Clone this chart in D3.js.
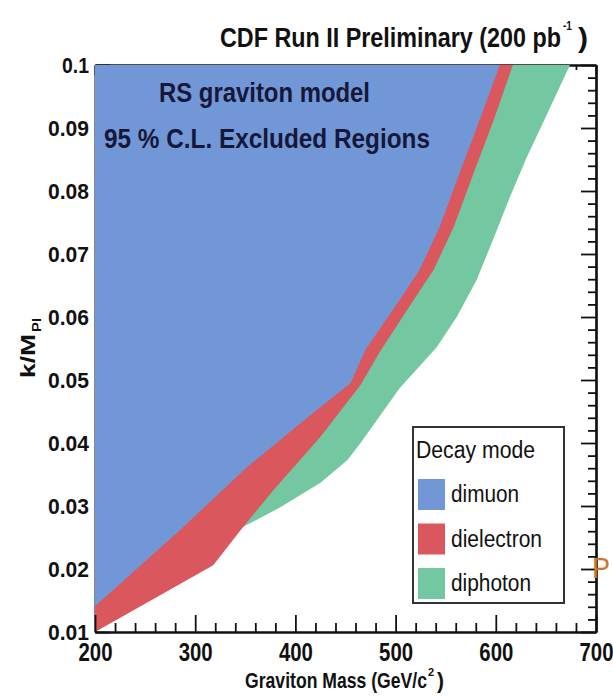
<!DOCTYPE html>
<html>
<head>
<meta charset="utf-8">
<script src="https://cdn.jsdelivr.net/npm/d3@7"></script>
<style>
  body { margin: 0; background: #fff; }
  text { font-family: "Liberation Sans", Arial, Helvetica, sans-serif; }
</style>
</head>
<body>
<svg id="chart" width="613" height="697"></svg>
<script>
// Axis ticks and labels
const massTicks = [200, 300, 400, 500, 600, 700];
const kTicks = [0.01, 0.02, 0.03, 0.04, 0.05, 0.06, 0.07, 0.08, 0.09, 0.1];
const kLabels = ["0.01", "0.02", "0.03", "0.04", "0.05", "0.06", "0.07", "0.08", "0.09", "0.1"];

// Exclusion boundaries (graviton mass in GeV/c^2, k/M_Pl)
const dimuonMass = [200, 285, 352, 418, 455, 470, 504, 524, 544, 564, 584, 604];
const dimuonK    = [0.0141, 0.0262, 0.0362, 0.0448, 0.0495, 0.0548, 0.0627, 0.0675, 0.0743, 0.0829, 0.0913, 0.1];

const dielectronMass = [200, 318, 348, 378, 425, 465, 484, 518, 538, 558, 578, 598, 617];
const dielectronK    = [0.01, 0.0206, 0.0267, 0.0325, 0.041, 0.0492, 0.0544, 0.0627, 0.0675, 0.0743, 0.0829, 0.0913, 0.1];

const diphotonMass = [200, 348, 385, 425, 452, 465, 504, 541, 561, 581, 597, 614, 631, 647, 674];
const diphotonK    = [0.01, 0.0267, 0.0298, 0.0337, 0.0373, 0.04, 0.0487, 0.0552, 0.06, 0.0659, 0.0722, 0.079, 0.0854, 0.0908, 0.1];

const modes = ["dimuon", "dielectron", "diphoton"];
const modeColors = ["#7297d6", "#d9575d", "#73c7a1"];

const svg = d3.select("#chart");
svg.append("rect").attr("width", 613).attr("height", 697).attr("fill", "#fff");

const x = d3.scaleLinear().domain([200, 700]).range([95, 596]);
const y = d3.scaleLinear().domain([0.01, 0.1]).range([632, 65]);

const massMinor = d3.range(200, 701, 20).filter(v => v % 100 !== 0);
const kMinor = d3.range(10, 101, 2).filter(v => v % 10 !== 0).map(v => v / 1000);

function styleAxis(g, width) {
  g.select(".domain").attr("stroke", "#111").attr("stroke-width", width);
  g.selectAll(".tick line").attr("stroke", "#111").attr("stroke-width", 1.8);
}

// Top and left frame sit underneath the filled regions
styleAxis(svg.append("g").attr("transform", "translate(0,65)")
  .call(d3.axisBottom(x).tickValues(massMinor).tickSize(5).tickSizeOuter(0).tickFormat("")), 2);
styleAxis(svg.append("g").attr("transform", "translate(0,65)")
  .call(d3.axisBottom(x).tickValues(massTicks).tickSize(10).tickSizeOuter(0).tickFormat("")), 2);
styleAxis(svg.append("g").attr("transform", "translate(95,0)")
  .call(d3.axisRight(y).tickValues(kTicks).tickSize(15).tickSizeOuter(0).tickFormat("")), 2);

// Excluded regions: everything to the upper left of each boundary
function region(masses, ks) {
  const pts = masses.map((m, i) => [m, ks[i]]);
  pts.push([200, 0.1]);
  return d3.line().x(d => x(d[0])).y(d => y(d[1]))(pts) + "Z";
}
svg.append("path").attr("d", region(diphotonMass, diphotonK)).attr("fill", modeColors[2]);
svg.append("path").attr("d", region(dielectronMass, dielectronK)).attr("fill", modeColors[1]);
svg.append("path").attr("d", region(dimuonMass, dimuonK)).attr("fill", modeColors[0]);

// Bottom axis: inward ticks
styleAxis(svg.append("g").attr("transform", "translate(0,632)")
  .call(d3.axisTop(x).tickValues(massMinor).tickSize(9).tickSizeOuter(0).tickFormat("")), 2.2);
styleAxis(svg.append("g").attr("transform", "translate(0,632)")
  .call(d3.axisTop(x).tickValues(massTicks).tickSize(17).tickSizeOuter(0).tickFormat("")), 2.2);
// Right axis: inward ticks
styleAxis(svg.append("g").attr("transform", "translate(596,0)")
  .call(d3.axisLeft(y).tickValues(kMinor).tickSize(8).tickSizeOuter(0).tickFormat("")), 2.2);
styleAxis(svg.append("g").attr("transform", "translate(596,0)")
  .call(d3.axisLeft(y).tickValues(kTicks).tickSize(15).tickSizeOuter(0).tickFormat("")), 2.2);

// Tick labels
const xLab = svg.append("g").attr("transform", "translate(0,632)")
  .call(d3.axisBottom(x).tickValues(massTicks).tickSize(0).tickPadding(11).tickFormat(d3.format("d")));
xLab.select(".domain").remove();
xLab.selectAll(".tick text")
  .attr("font-size", 26).attr("font-weight", "bold").attr("fill", "#111")
  .style("font-family", '"Liberation Sans", Arial, sans-serif')
  .attr("textLength", 34).attr("lengthAdjust", "spacingAndGlyphs");

const yLab = svg.append("g").attr("transform", "translate(95,0)")
  .call(d3.axisLeft(y).tickValues(kTicks).tickSize(0).tickPadding(6).tickFormat((d, i) => kLabels[i]));
yLab.select(".domain").remove();
yLab.selectAll(".tick text")
  .attr("font-size", 22).attr("font-weight", "bold").attr("fill", "#111")
  .style("font-family", '"Liberation Sans", Arial, sans-serif')
  .attr("textLength", (d, i) => kLabels[i].length === 3 ? 27 : 41)
  .attr("lengthAdjust", "spacingAndGlyphs");

function label(txt, px, py, size, weight, width, color) {
  const t = svg.append("text").attr("x", px).attr("y", py)
    .attr("font-size", size).attr("font-weight", weight).attr("fill", color || "#111").text(txt);
  if (width) t.attr("textLength", width).attr("lengthAdjust", "spacingAndGlyphs");
  return t;
}

// Title
label("CDF Run II Preliminary (200 pb", 220, 47, 27, "bold", 341);
label("-1", 563, 30, 12, "bold", 9);
label(")", 578, 47, 27, "bold", 10);

// Annotation inside the excluded area
label("RS graviton model", 159, 102, 27, "bold", 211, "#15183a");
label("95 % C.L. Excluded Regions", 104, 148, 27, "bold", 326, "#15183a");

// Axis titles
label("Graviton Mass (GeV/c", 245, 688, 22, "bold", 182);
label("2", 428, 676, 11, "bold");
label(")", 437, 688, 22, "bold", 7);

const yt = svg.append("g").attr("transform", "translate(35,378) rotate(-90)");
yt.append("text").attr("x", 0).attr("y", 0).attr("font-size", 21).attr("font-weight", "bold")
  .attr("fill", "#111").attr("textLength", 44).attr("lengthAdjust", "spacingAndGlyphs").text("k/M");
yt.append("text").attr("x", 46).attr("y", 6).attr("font-size", 12).attr("font-weight", "bold")
  .attr("fill", "#111").attr("textLength", 14).attr("lengthAdjust", "spacingAndGlyphs").text("Pl");

// Legend
const lg = svg.append("g");
lg.append("rect").attr("x", 413).attr("y", 427).attr("width", 151).attr("height", 176)
  .attr("fill", "#fff").attr("stroke", "#333").attr("stroke-width", 2);
label("Decay mode", 416, 458, 23, "normal", 119);
const legendWidths = [68, 91, 80];
modes.forEach((m, i) => {
  lg.append("rect").attr("x", 418).attr("y", 479 + i * 44.5).attr("width", 27).attr("height", 31)
    .attr("fill", modeColors[i]);
  label(m, 451, 502 + i * 44.5, 23, "normal", legendWidths[i]);
});

// Stray marker at the right margin
label("P", 592, 578, 30, "normal", 18, "#c9762f");
</script>
</body>
</html>
